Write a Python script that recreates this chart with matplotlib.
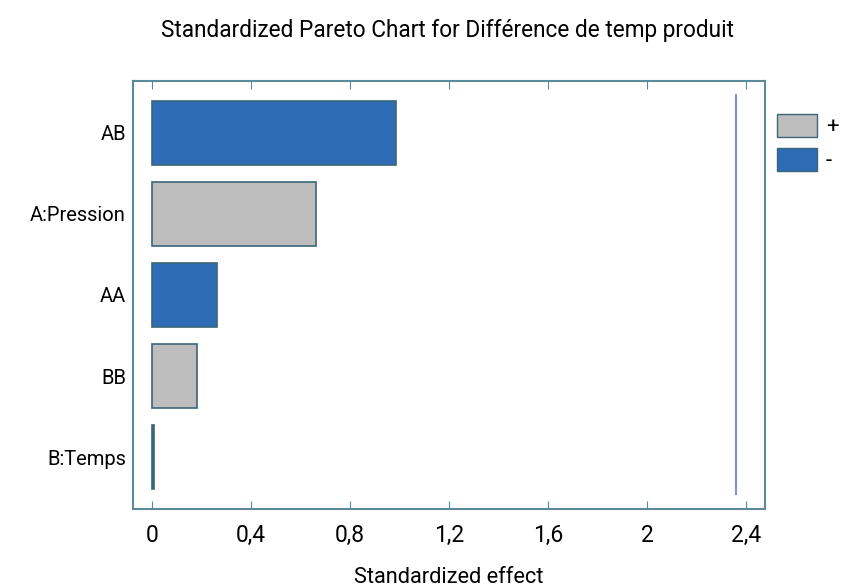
import matplotlib
matplotlib.use("Agg")
import matplotlib.pyplot as plt
from matplotlib.patches import Patch

plt.rcParams['font.family'] = ['Roboto', 'DejaVu Sans']

categories = ["AB", "A:Pression", "AA", "BB", "B:Temps"]
effects = [0.986, 0.663, 0.263, 0.180, 0.006]
signs = ["-", "+", "-", "+", "-"]
critical = 2.36
xticks = [0, 0.4, 0.8, 1.2, 1.6, 2.0, 2.4]
xticklabels = ["0", "0,4", "0,8", "1,2", "1,6", "2", "2,4"]

pos_color = "#bdbdbd"
neg_color = "#2e6db6"
edge = "#3b6678"
spine = "#5b8b9a"

fig = plt.figure(figsize=(8.43, 5.88), dpi=100)
ax = fig.add_axes([133/843, 1-509/588, (765-133)/843, (509-81)/588])

ypos = list(range(len(categories)))
colors = [pos_color if s == "+" else neg_color for s in signs]
ax.barh(ypos, effects, height=0.79, color=colors, edgecolor=edge, linewidth=1.2, left=0)
ax.axvline(critical, ymin=(4.64-4.45)/5.28, ymax=(4.64+0.47)/5.28, color="#7f8fe8", linewidth=1.5)

ax.set_xlim(-0.077, 2.477)
ax.set_ylim(4.64, -0.64)
ax.set_yticks(ypos)
ax.set_yticklabels(categories, fontsize=14.5)
ax.set_xticks(xticks)
ax.set_xticklabels(xticklabels, fontsize=16.5)
ax.tick_params(axis='x', direction='in', top=True, length=6, color=spine, pad=11)
ax.tick_params(axis='y', length=0, pad=5)
for s in ax.spines.values():
    s.set_color(spine)
    s.set_linewidth(1.5)

ax.set_xlabel("Standardized effect", fontsize=15.7, labelpad=14)
fig.text(448/843, 1-31/588, "Standardized Pareto Chart for Différence de temp produit",
         ha='center', va='center', fontsize=16.3)

handles = [Patch(facecolor=pos_color, edgecolor=edge, label="+"),
           Patch(facecolor=neg_color, edgecolor=edge, label="-")]
fig.legend(handles=handles, loc='upper left', bbox_to_anchor=(777/843, 1-114/588),
           frameon=False, fontsize=16, handlelength=1.8, handleheight=1.2,
           handletextpad=0.4, labelspacing=0.45, borderaxespad=0, borderpad=0)

fig.savefig("out.png", dpi=100)
